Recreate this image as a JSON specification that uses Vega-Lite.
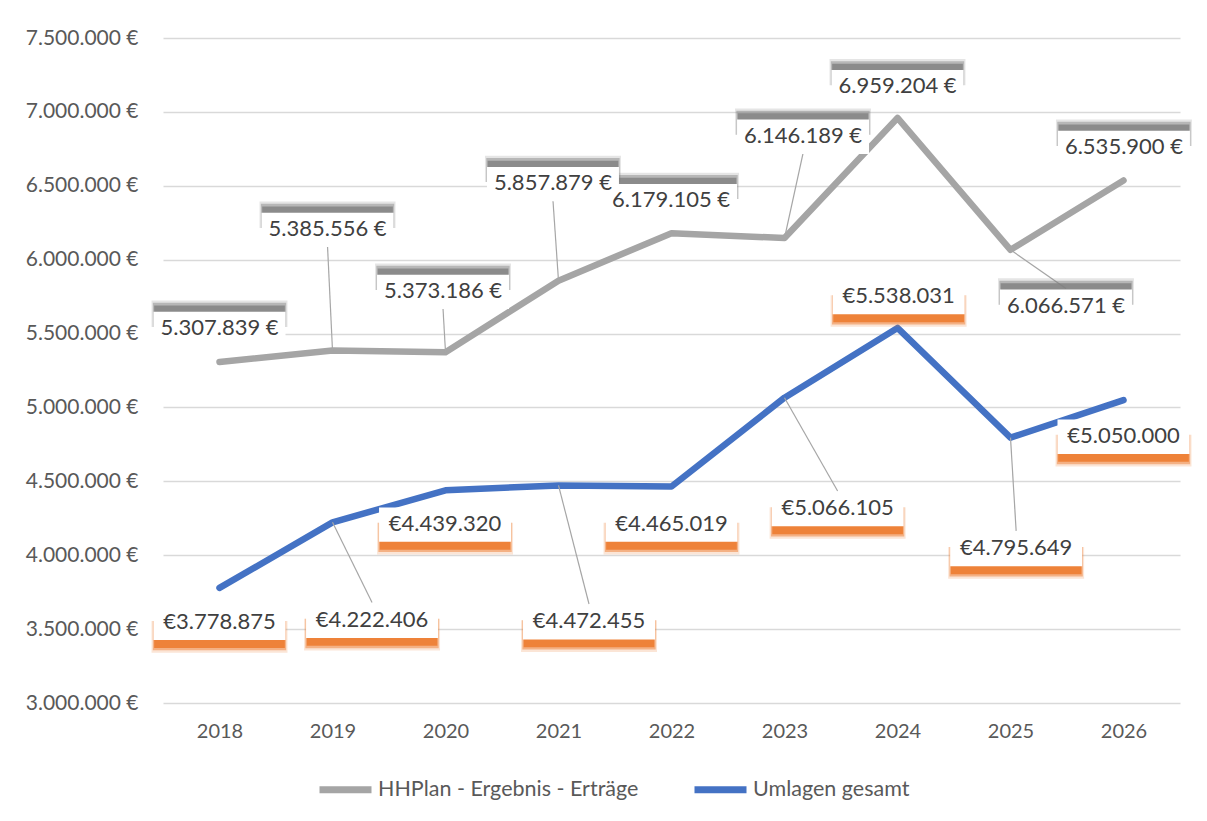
{
  "$schema": "https://vega.github.io/schema/vega-lite/v6.json",
  "width": 1017,
  "height": 665,
  "autosize": {"type": "none"},
  "padding": {"left": 163, "top": 38, "right": 27, "bottom": 118},
  "background": "white",
  "config": {
    "locale": {"number": {"decimal": ",", "thousands": ".", "grouping": [3], "currency": ["", "\u00a0€"]}},
    "font": "Lato",
    "view": {"stroke": null},
    "axis": {"labelFont": "Lato", "labelColor": "#595959", "labelFontSize": 21, "domain": false, "ticks": false, "tickSize": 0, "title": null}
  },
  "data": {
    "values": [
      {"year": 2018, "series": "HHPlan - Ergebnis - Erträge", "value": 5307839, "labelYear": 2018.0, "labelValue": 5545000, "leader": false},
      {"year": 2019, "series": "HHPlan - Ergebnis - Erträge", "value": 5385556, "labelYear": 2018.956, "labelValue": 6215000, "leader": true},
      {"year": 2020, "series": "HHPlan - Ergebnis - Erträge", "value": 5373186, "labelYear": 2019.978, "labelValue": 5795000, "leader": true},
      {"year": 2021, "series": "HHPlan - Ergebnis - Erträge", "value": 5857879, "labelYear": 2020.951, "labelValue": 6525000, "leader": true},
      {"year": 2022, "series": "HHPlan - Ergebnis - Erträge", "value": 6179105, "labelYear": 2021.996, "labelValue": 6410000, "leader": false},
      {"year": 2023, "series": "HHPlan - Ergebnis - Erträge", "value": 6146189, "labelYear": 2023.164, "labelValue": 6845000, "leader": true},
      {"year": 2024, "series": "HHPlan - Ergebnis - Erträge", "value": 6959204, "labelYear": 2024.0, "labelValue": 7180000, "leader": false},
      {"year": 2025, "series": "HHPlan - Ergebnis - Erträge", "value": 6066571, "labelYear": 2025.491, "labelValue": 5695000, "leader": true},
      {"year": 2026, "series": "HHPlan - Ergebnis - Erträge", "value": 6535900, "labelYear": 2026.004, "labelValue": 6770000, "leader": false},
      {"year": 2018, "series": "Umlagen gesamt", "value": 3778875, "labelYear": 2018.0, "labelValue": 3555000, "leader": false},
      {"year": 2019, "series": "Umlagen gesamt", "value": 4222406, "labelYear": 2019.35, "labelValue": 3570000, "leader": true},
      {"year": 2020, "series": "Umlagen gesamt", "value": 4439320, "labelYear": 2019.996, "labelValue": 4220000, "leader": false},
      {"year": 2021, "series": "Umlagen gesamt", "value": 4472455, "labelYear": 2021.27, "labelValue": 3560000, "leader": true},
      {"year": 2022, "series": "Umlagen gesamt", "value": 4465019, "labelYear": 2022.0, "labelValue": 4220000, "leader": false},
      {"year": 2023, "series": "Umlagen gesamt", "value": 5066105, "labelYear": 2023.47, "labelValue": 4325000, "leader": true},
      {"year": 2024, "series": "Umlagen gesamt", "value": 5538031, "labelYear": 2024.01, "labelValue": 5760000, "leader": false},
      {"year": 2025, "series": "Umlagen gesamt", "value": 4795649, "labelYear": 2025.05, "labelValue": 4055000, "leader": true},
      {"year": 2026, "series": "Umlagen gesamt", "value": 5050000, "labelYear": 2026.0, "labelValue": 4815000, "leader": false}
    ]
  },
  "transform": [
    {"calculate": "datum.series === 'Umlagen gesamt' ? '€' + format(datum.value, ',.0f') : format(datum.value, ',.0f') + '\u00a0€'", "as": "label"},
    {"calculate": "datum.labelValue > datum.value ? datum.labelValue - 125000 : datum.labelValue + 110000", "as": "leaderEnd"}
  ],
  "encoding": {
    "x": {
      "field": "year", "type": "quantitative",
      "scale": {"domain": [2017.5, 2026.5], "nice": false, "zero": false},
      "axis": {"values": [2018, 2019, 2020, 2021, 2022, 2023, 2024, 2025, 2026], "format": "d", "grid": false, "labelPadding": 18, "labelFontSize": 20}
    },
    "y": {
      "field": "value", "type": "quantitative",
      "scale": {"domain": [3000000, 7500000], "nice": false, "zero": false},
      "axis": {"values": [3000000, 3500000, 4000000, 4500000, 5000000, 5500000, 6000000, 6500000, 7000000, 7500000], "format": "$,.0f", "grid": true, "gridColor": "#D9D9D9", "gridWidth": 1.4, "labelPadding": 25}
    }
  },
  "layer": [
    {
      "mark": {"type": "line", "strokeWidth": 6.5, "strokeCap": "round", "strokeJoin": "round"},
      "encoding": {
        "color": {
          "field": "series", "type": "nominal",
          "scale": {"domain": ["HHPlan - Ergebnis - Erträge", "Umlagen gesamt"], "range": ["#A5A5A5", "#4472C4"]},
          "legend": {
            "orient": "none", "legendX": 153, "legendY": 722, "direction": "horizontal", "title": null,
            "symbolType": "stroke", "symbolSize": 2704, "symbolStrokeWidth": 7,
            "labelFontSize": 21.5, "labelColor": "#595959", "labelFont": "Lato", "labelLimit": 500, "columnPadding": 41, "labelOffset": 3
          }
        }
      }
    },
    {
      "transform": [{"filter": "datum.leader"}],
      "mark": {"type": "rule", "color": "#A6A6A6", "strokeWidth": 1.2},
      "encoding": {
        "x2": {"field": "labelYear"},
        "y2": {"field": "leaderEnd"}
      }
    },
    {
      "transform": [{"filter": "datum.series !== 'Umlagen gesamt'"}],
      "mark": {"type": "point", "filled": true, "shape": "M-1.03,-0.40H1.03V0H-1.03Z", "size": 17424, "color": "#7F7F7F", "opacity": 0.2, "strokeWidth": 0},
      "encoding": {"x": {"field": "labelYear", "type": "quantitative"}, "y": {"field": "labelValue", "type": "quantitative"}}
    },
    {
      "transform": [{"filter": "datum.series !== 'Umlagen gesamt'"}],
      "mark": {"type": "point", "filled": true, "shape": "M-1.01,-0.365H1.01V0H-1.01Z", "size": 17424, "color": "#7F7F7F", "opacity": 0.45, "strokeWidth": 0},
      "encoding": {"x": {"field": "labelYear", "type": "quantitative"}, "y": {"field": "labelValue", "type": "quantitative"}}
    },
    {
      "transform": [{"filter": "datum.series !== 'Umlagen gesamt'"}],
      "mark": {"type": "point", "filled": true, "shape": "M-0.99,-0.325H0.99V0H-0.99Z", "size": 17424, "color": "#7F7F7F", "opacity": 0.8, "strokeWidth": 0},
      "encoding": {"x": {"field": "labelYear", "type": "quantitative"}, "y": {"field": "labelValue", "type": "quantitative"}}
    },
    {
      "transform": [{"filter": "datum.series === 'Umlagen gesamt'"}],
      "mark": {"type": "point", "filled": true, "shape": "M-1.03,0H1.03V0.48H-1.03Z", "size": 17424, "color": "#ED7D31", "opacity": 0.2, "strokeWidth": 0},
      "encoding": {"x": {"field": "labelYear", "type": "quantitative"}, "y": {"field": "labelValue", "type": "quantitative"}}
    },
    {
      "transform": [{"filter": "datum.series === 'Umlagen gesamt'"}],
      "mark": {"type": "point", "filled": true, "shape": "M-1.01,0H1.01V0.445H-1.01Z", "size": 17424, "color": "#ED7D31", "opacity": 0.5, "strokeWidth": 0},
      "encoding": {"x": {"field": "labelYear", "type": "quantitative"}, "y": {"field": "labelValue", "type": "quantitative"}}
    },
    {
      "transform": [{"filter": "datum.series === 'Umlagen gesamt'"}],
      "mark": {"type": "point", "filled": true, "shape": "M-0.99,0H0.99V0.41H-0.99Z", "size": 17424, "color": "#ED7D31", "opacity": 0.9, "strokeWidth": 0},
      "encoding": {"x": {"field": "labelYear", "type": "quantitative"}, "y": {"field": "labelValue", "type": "quantitative"}}
    },
    {
      "mark": {"type": "point", "filled": true, "shape": "M-1,-0.23H1V0.29H-1Z", "size": 17424, "color": "#FFFFFF", "opacity": 1, "strokeWidth": 0},
      "encoding": {"x": {"field": "labelYear", "type": "quantitative"}, "y": {"field": "labelValue", "type": "quantitative"}}
    },
    {
      "mark": {"type": "text", "font": "Lato", "fontSize": 22, "color": "#404040", "baseline": "middle", "align": "center", "dy": 1},
      "encoding": {
        "x": {"field": "labelYear", "type": "quantitative"},
        "y": {"field": "labelValue", "type": "quantitative"},
        "text": {"field": "label"}
      }
    }
  ]
}
